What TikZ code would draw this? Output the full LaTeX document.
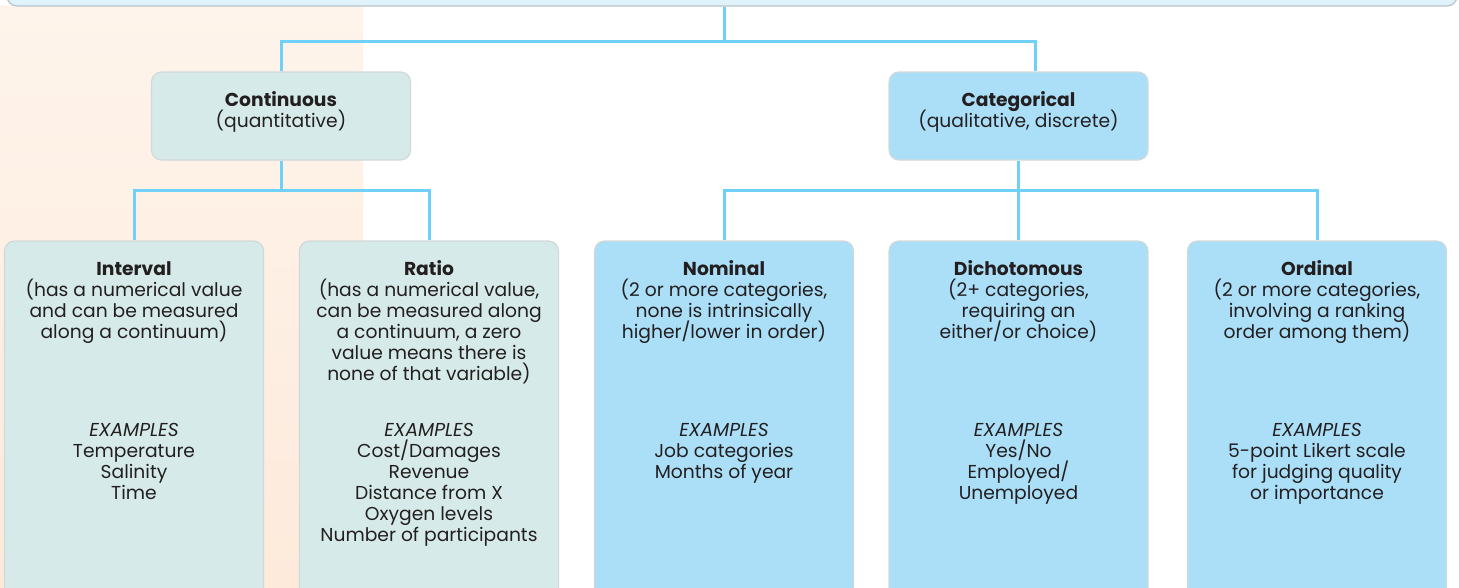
\documentclass[tikz,border=0pt]{standalone}
\usepackage{fontspec}
\setmainfont{Poppins}
\usepackage{xcolor}
\usepackage{tikz}

\definecolor{linkblue}{HTML}{6FD1F8}
\definecolor{boxline}{HTML}{D2D8DA}
\definecolor{topfill}{HTML}{E0F3FA}
\definecolor{topline}{HTML}{B9C3CB}
\definecolor{contfill}{HTML}{D6EBE9}
\definecolor{catfill}{HTML}{ABDFF8}
\definecolor{peachtop}{HTML}{FEF4EB}
\definecolor{peachbot}{HTML}{FDEADB}
\definecolor{inkgray}{HTML}{231F20}
\newcommand{\boxfont}{\fontsize{18.7}{21}\selectfont\lineskiplimit=-100pt\relax}

\begin{document}
\begin{tikzpicture}[x=1pt,y=-1pt,
  link/.style={draw=linkblue, line width=3pt},
  box/.style={rectangle, rounded corners=10pt, draw=boxline, line width=1.2pt, minimum width=259pt, inner sep=0pt},
  contbox/.style={box, fill=contfill},
  catbox/.style={box, fill=catfill},
  txt/.style={anchor=north, align=center, inner sep=0pt, text=inkgray, font=\boxfont}]
\useasboundingbox (0,0) rectangle (1459,587);
\clip (0,0) rectangle (1459,587);
\shade[top color=peachtop, bottom color=peachbot] (0,5) rectangle (363,587);

\node at (732,-17) [box, fill=topfill, draw=topline, minimum width=1450pt, minimum height=46pt] (top) {};
\node at (281,116) [contbox, minimum height=88pt] (cont) {};
\node at (1018.5,116) [catbox, minimum height=88pt] (categ) {};
\node at (134,420.5) [contbox, minimum height=359pt] (interval) {};
\node at (429,420.5) [contbox, minimum height=359pt] (ratio) {};
\node at (724,420.5) [catbox, minimum height=359pt] (nominal) {};
\node at (1018.5,420.5) [catbox, minimum height=359pt] (dichot) {};
\node at (1317,420.5) [catbox, minimum height=359pt] (ordinal) {};

\node at (281,91.3) [txt] (conttxt) {\strut\textbf{Continuous}\\(quantitative)};
\node at (1018.5,91.3) [txt] (categtxt) {\strut\textbf{Categorical}\\(qualitative, discrete)};

\node at (134,260.3) [txt] (intervaltxt) {\strut\textbf{Interval}\\(has a numerical value\\and can be measured\\along a continuum)};
\node at (429,260.3) [txt] (ratiotxt) {\strut\textbf{Ratio}\\(has a numerical value,\\can be measured along\\a continuum, a zero\\value means there is\\none of that variable)};
\node at (724,260.3) [txt] (nominaltxt) {\strut\textbf{Nominal}\\(2 or more categories,\\none is intrinsically\\higher/lower in order)};
\node at (1018.5,260.3) [txt] (dichottxt) {\strut\textbf{Dichotomous}\\(2+ categories,\\requiring an\\either/or choice)};
\node at (1317,260.3) [txt] (ordinaltxt) {\strut\textbf{Ordinal}\\(2 or more categories,\\involving a ranking\\order among them)};

\node at (134,421.3) [txt] (intervalex) {\strut\textit{EXAMPLES}\\Temperature\\Salinity\\Time};
\node at (429,421.3) [txt] (ratioex) {\strut\textit{EXAMPLES}\\Cost/Damages\\Revenue\\Distance from X\\Oxygen levels\\Number of participants};
\node at (724,421.3) [txt] (nominalex) {\strut\textit{EXAMPLES}\\Job categories\\Months of year};
\node at (1018.5,421.3) [txt] (dichotex) {\strut\textit{EXAMPLES}\\Yes/No\\Employed/\\Unemployed};
\node at (1317,421.3) [txt] (ordinalex) {\strut\textit{EXAMPLES}\\5-point Likert scale\\for judging quality\\or importance};

% connectors
\coordinate (split1) at (724,41);
\coordinate (split2) at (281,190);
\coordinate (split3) at (1018.5,190);
\draw[link] (top.south -| nominal.north) -- (split1);
\draw[link] (cont.north) |- (split1) -| ([xshift=17pt]categ.north);
\draw[link] (cont.south) -- (split2);
\draw[link] (interval.north) |- (split2) -| (ratio.north);
\draw[link] (categ.south) -- (split3);
\draw[link] (nominal.north) |- (split3) -| (ordinal.north);
\draw[link] (split3) -- (dichot.north);
\end{tikzpicture}
\end{document}
